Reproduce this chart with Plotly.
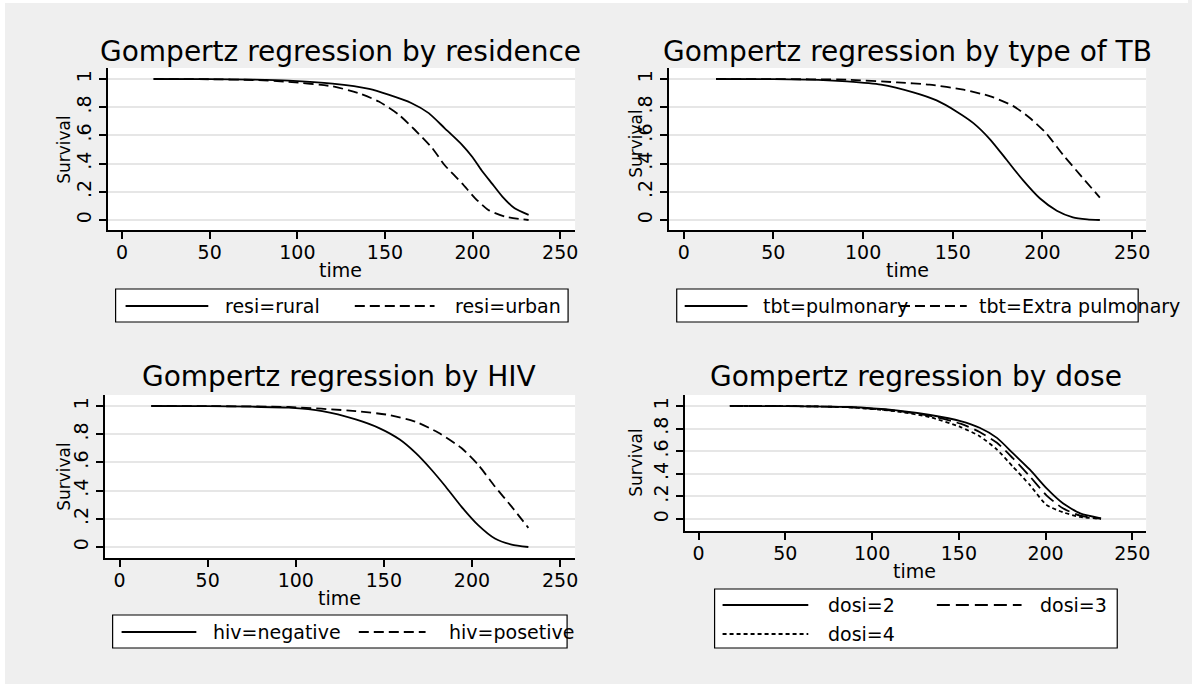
import plotly.graph_objects as go

W, H = 1192, 684

# ---------------- data ----------------
titles = ["Gompertz regression by residence", "Gompertz regression by type of TB",
          "Gompertz regression by HIV", "Gompertz regression by dose"]

res_names = ["resi=rural", "resi=urban"]
rural_t = [18, 50, 75, 95, 120, 141, 152, 165, 175, 184, 194, 200, 205, 211, 217, 224, 232]
rural_s = [1.0, 0.999, 0.995, 0.988, 0.967, 0.93, 0.889, 0.83, 0.758, 0.652, 0.533, 0.445, 0.355, 0.26, 0.166, 0.083, 0.036]
urban_t = [18, 50, 75, 95, 120, 135, 146.5, 158, 167, 177, 184, 194, 201.5, 209, 218.5, 232]
urban_s = [1.0, 0.998, 0.993, 0.98, 0.948, 0.9, 0.84, 0.746, 0.64, 0.51, 0.39, 0.26, 0.154, 0.071, 0.024, 0.0]

tb_names = ["tbt=pulmonary", "tbt=Extra pulmonary"]
pulm_t = [18, 50, 75, 91, 110, 128, 141, 152, 161.5, 171, 180, 189, 198.5, 208, 217, 225, 232]
pulm_s = [1.0, 0.999, 0.994, 0.983, 0.96, 0.905, 0.848, 0.77, 0.687, 0.569, 0.427, 0.284, 0.154, 0.066, 0.019, 0.005, 0.0]
extra_t = [18, 50, 91, 119, 137, 156, 171, 184, 193, 202, 211.5, 221, 232]
extra_s = [1.0, 0.999, 0.995, 0.976, 0.96, 0.924, 0.877, 0.806, 0.723, 0.616, 0.462, 0.32, 0.159]

hiv_names = ["hiv=negative", "hiv=posetive"]
neg_t = [18, 50, 75, 96, 115, 134, 147, 159, 168, 177, 185, 194, 203.5, 213, 222.5, 232]
neg_s = [1.0, 0.999, 0.995, 0.988, 0.964, 0.905, 0.845, 0.762, 0.667, 0.548, 0.429, 0.286, 0.155, 0.06, 0.017, 0.0]
pos_t = [18, 50, 96, 134, 153, 168, 181, 194, 203.5, 213, 222.5, 232]
pos_s = [1.0, 0.999, 0.993, 0.964, 0.936, 0.888, 0.81, 0.702, 0.583, 0.429, 0.286, 0.136]

dose_names = ["dosi=2", "dosi=3", "dosi=4"]
dose_t = [18, 50, 86, 114, 133.5, 151, 162, 172, 181, 191, 200.5, 210, 220, 232]
dosi2_s = [1.0, 0.999, 0.991, 0.961, 0.92, 0.866, 0.807, 0.718, 0.585, 0.436, 0.273, 0.139, 0.05, 0.006]
dosi3_s = [1.0, 0.999, 0.99, 0.957, 0.912, 0.843, 0.77, 0.674, 0.54, 0.377, 0.21, 0.095, 0.03, 0.003]
dosi4_s = [1.0, 0.999, 0.989, 0.952, 0.9, 0.813, 0.733, 0.614, 0.466, 0.30, 0.125, 0.06, 0.018, 0.002]

x_ticks = [0, 50, 100, 150, 200, 250]
y_ticks = [0, 0.2, 0.4, 0.6, 0.8, 1]
y_tick_text = ["0", ".2", ".4", ".6", ".8", "1"]
x_title = "time"
y_title = "Survival"

# ---------------- layout geometry (pixels) ----------------
FONT = "DejaVu Sans"
DASH = "10px,5px"
DOT = "4px,3px"
LONGDASH = "13px,6px"

panels = [
    dict(box=(108, 577, 68, 230), xr=[-8.25, 258.5], yr=[-0.071, 1.078]),
    dict(box=(671, 1150, 68, 230), xr=[-8.33, 257.8], yr=[-0.071, 1.078]),
    dict(box=(105, 577, 395, 558), xr=[-8.5, 258.5], yr=[-0.078, 1.078]),
    dict(box=(687, 1150, 395, 531), xr=[-8.05, 258.0], yr=[-0.106, 1.097]),
]

series = [
    [(rural_t, rural_s, res_names[0], "solid"), (urban_t, urban_s, res_names[1], DASH)],
    [(pulm_t, pulm_s, tb_names[0], "solid"), (extra_t, extra_s, tb_names[1], DASH)],
    [(neg_t, neg_s, hiv_names[0], "solid"), (pos_t, pos_s, hiv_names[1], DASH)],
    [(dose_t, dosi2_s, dose_names[0], "solid"), (dose_t, dosi3_s, dose_names[1], LONGDASH),
     (dose_t, dosi4_s, dose_names[2], DOT)],
]

fig = go.Figure()
layout = dict(
    width=W, height=H, margin=dict(l=0, r=0, t=0, b=0),
    paper_bgcolor="#efefef", plot_bgcolor="white", showlegend=False,
    font=dict(family=FONT, color="black"),
)

def px(x):
    return x / W

def py(y):
    return 1 - y / H

annotations = []
shapes = []

shapes.append(dict(type="rect", xref="paper", yref="paper", x0=0, x1=1, y0=py(3), y1=1,
                   fillcolor="white", line=dict(width=0), layer="below"))
shapes.append(dict(type="rect", xref="paper", yref="paper", x0=0, x1=px(5), y0=0, y1=1,
                   fillcolor="white", line=dict(width=0), layer="below"))

TICK_SIZE = 19
for i, p in enumerate(panels):
    l, r, t, b = p["box"]
    sfx = "" if i == 0 else str(i + 1)
    xa, ya = "x" + sfx, "y" + sfx
    layout["xaxis" + sfx] = dict(
        domain=[px(l), px(r)], anchor=ya, range=p["xr"], tickvals=x_ticks,
        showgrid=False, zeroline=False, showline=True, linecolor="black", linewidth=1.5,
        ticks="outside", ticklen=7, tickwidth=1.5, tickcolor="black",
        tickfont=dict(family=FONT, size=TICK_SIZE, color="black"), ticklabelstandoff=-3,
    )
    layout["yaxis" + sfx] = dict(
        domain=[py(b), py(t)], anchor=xa, range=p["yr"], tickvals=y_ticks, ticktext=y_tick_text,
        tickangle=-90, showgrid=True, gridcolor="#e6e6e6", gridwidth=2,
        zeroline=False, showline=True, linecolor="black", linewidth=1.5,
        ticks="outside", ticklen=7, tickwidth=1.5, tickcolor="black",
        tickfont=dict(family=FONT, size=TICK_SIZE, color="black"), ticklabelstandoff=0,
    )
    for (tx, sy, name, dash) in series[i]:
        fig.add_trace(go.Scatter(x=tx, y=sy, mode="lines", name=name, xaxis=xa, yaxis=ya,
                                 line=dict(color="black", width=1.8, dash=dash,
                                           shape="spline", smoothing=0.6)))

title_pos = [(342, 51), (911, 51), (340, 376), (919, 376)]
for txt, (cx, cy) in zip(titles, title_pos):
    annotations.append(dict(text=txt, x=px(cx), y=py(cy), xref="paper", yref="paper",
                            showarrow=False, xanchor="center", yanchor="middle",
                            font=dict(family=FONT, size=28, color="black")))

xt_pos = [(342, 270), (911, 270), (341, 598), (918, 571)]
for (cx, cy) in xt_pos:
    annotations.append(dict(text=x_title, x=px(cx), y=py(cy), xref="paper", yref="paper",
                            showarrow=False, xanchor="center", yanchor="middle",
                            font=dict(family=FONT, size=19, color="black")))
yt_pos = [(64, 149), (638, 143), (64, 476), (638, 462)]
for (cx, cy) in yt_pos:
    annotations.append(dict(text=y_title, x=px(cx), y=py(cy), xref="paper", yref="paper",
                            showarrow=False, xanchor="center", yanchor="middle", textangle=-90,
                            font=dict(family=FONT, size=17, color="black")))

legends = [
    dict(box=(116, 570, 289, 322),
         items=[(126, 209, 224, 306, res_names[0], "solid"), (356, 436, 455, 306, res_names[1], DASH)]),
    dict(box=(679, 1142, 289, 322),
         items=[(687, 750, 764, 306, tb_names[0], "solid"), (903, 970, 980, 306, tb_names[1], DASH)]),
    dict(box=(113, 569, 615, 648),
         items=[(122, 197, 212, 632, hiv_names[0], "solid"), (360, 427, 449, 632, hiv_names[1], DASH)]),
    dict(box=(717, 1121, 589, 648),
         items=[(725, 811, 829, 605, dose_names[0], "solid"), (940, 1025, 1041, 605, dose_names[1], LONGDASH),
                (725, 811, 829, 634, dose_names[2], DOT)]),
]
for lg in legends:
    l, r, t, b = lg["box"]
    shapes.append(dict(type="rect", xref="paper", yref="paper", x0=px(l), x1=px(r), y0=py(b), y1=py(t),
                       fillcolor="white", line=dict(color="black", width=1.2)))
    for (x0, x1, tx, yy, name, dash) in lg["items"]:
        shapes.append(dict(type="line", xref="paper", yref="paper", x0=px(x0), x1=px(x1),
                           y0=py(yy), y1=py(yy), line=dict(color="black", width=1.8, dash=dash)))
        annotations.append(dict(text=name, x=px(tx), y=py(yy), xref="paper", yref="paper",
                                showarrow=False, xanchor="left", yanchor="middle",
                                font=dict(family=FONT, size=19, color="black")))

layout["annotations"] = annotations
layout["shapes"] = shapes
fig.update_layout(**layout)
fig.write_html("out.html")
